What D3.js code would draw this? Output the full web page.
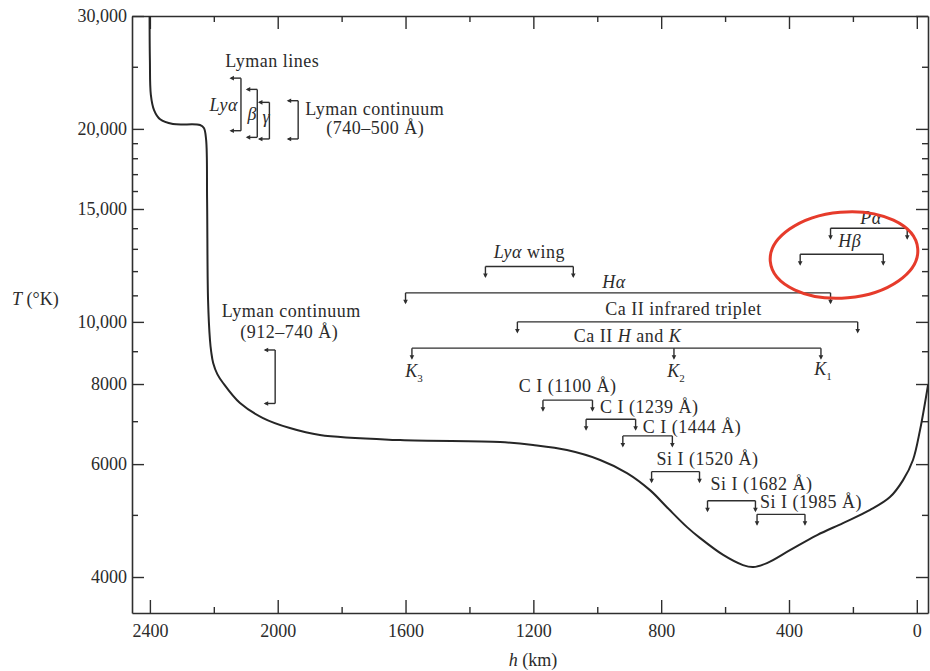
<!DOCTYPE html>
<html>
<head>
<meta charset="utf-8">
<script src="https://cdn.jsdelivr.net/npm/d3@7"></script>
<style>
  body { margin: 0; background: #fff; }
  svg { display: block; }
  text { font-family: "Liberation Serif", "Times New Roman", serif; fill: #2b2b2b; }
</style>
</head>
<body>
<svg id="chart" width="930" height="671"></svg>
<script>
// Temperature profile of the solar atmosphere: T (K) against height h (km)
const heightKm = [2401, 2400, 2397, 2387, 2368, 2328, 2243, 2231, 2224, 2221, 2218, 2212, 2208, 2202,
  2189, 2171, 2118, 2046, 1962, 1868, 1617, 1304, 1201, 1095, 991, 907, 835, 782, 719, 678, 606,
  544, 512, 469, 397, 312, 231, 146, 84, 43, 12, -10, -35];
const tempK = [30000, 25600, 22600, 21400, 20700, 20350, 20280, 20060, 19220, 15490, 10820, 9370, 8970, 8630,
  8290, 8030, 7470, 7080, 6830, 6660, 6540, 6495, 6425, 6310, 6090, 5810, 5465, 5140, 4785, 4600, 4330,
  4175, 4145, 4205, 4405, 4650, 4855, 5090, 5330, 5665, 6090, 6780, 7970];

const xMajorTicks = [2400, 2000, 1600, 1200, 800, 400, 0];
const xMinorTicks = [2200, 1800, 1400, 1000, 600, 200];
const yMajorTicks = [4000, 6000, 8000, 10000, 15000, 20000, 30000];
const yMinorTicks = [5000, 7000, 9000, 11000, 12000, 13000, 14000, 16000, 17000, 18000, 19000, 25000];

// Height ranges (km) where each line / continuum forms, drawn at a temperature level
const heightRanges = [
  { id: "lyaWing", text: "*Lyα* wing", h0: 1350, h1: 1075, T: 12200 },
  { id: "ha", text: "*Hα*", h0: 1600, h1: 270, T: 11100 },
  { id: "caIR", text: "Ca II infrared triplet", h0: 1250, h1: 185, T: 10000 },
  { id: "caHK", text: "Ca II *H* and *K*", h0: 1580, h1: 300, T: 9100, mid: [760] },
  { id: "hb", text: "*Hβ*", h0: 365, h1: 105, T: 12750 },
  { id: "pa", text: "*Pα*", h0: 270, h1: 30, T: 14000 },
  { id: "c1100", text: "C I (1100 Å)", h0: 1170, h1: 1015, T: 7550 },
  { id: "c1239", text: "C I (1239 Å)", h0: 1035, h1: 880, T: 7050 },
  { id: "c1444", text: "C I (1444 Å)", h0: 920, h1: 765, T: 6640 },
  { id: "si1520", text: "Si I (1520 Å)", h0: 830, h1: 680, T: 5840 },
  { id: "si1682", text: "Si I (1682 Å)", h0: 655, h1: 505, T: 5260 },
  { id: "si1985", text: "Si I (1985 Å)", h0: 500, h1: 350, T: 5010 }
];

// Points of the Ca II K profile marked under the H and K bracket
const kPoints = [
  { text: "*K*_3_", h: 1580 },
  { text: "*K*_2_", h: 760 },
  { text: "*K*_1_", h: 300 }
];

// Temperature ranges (K) of the Lyman lines and continua, placed at a height column
const tempRanges = [
  { id: "lya", text: ["*Lyα*"], h: 2115, T0: 24000, T1: 19870 },
  { id: "lyb", text: ["*β*"], h: 2064, T0: 23050, T1: 19400 },
  { id: "lyg", text: ["*γ*"], h: 2026, T0: 22000, T1: 19290 },
  { id: "lyc1", text: ["Lyman continuum", "(740–500 Å)"], h: 1936, T0: 22130, T1: 19290 },
  { id: "lyc2", text: ["Lyman continuum", "(912–740 Å)"], h: 2008, T0: 9040, T1: 7460 }
];

// Label placement relative to each bracket (pixels)
const hLabelLayout = {
  lyaWing: { ref: "mid", anchor: "middle", dx: 0, dy: -9 },
  ha: { ref: "mid", anchor: "middle", dx: -4, dy: -5 },
  caIR: { ref: "mid", anchor: "middle", dx: -4, dy: -7 },
  caHK: { ref: "mid", anchor: "middle", dx: 11, dy: -6 },
  hb: { ref: "mid", anchor: "middle", dx: 8, dy: -7 },
  pa: { ref: "mid", anchor: "middle", dx: 2, dy: -4 },
  c1100: { ref: "mid", anchor: "middle", dx: 0, dy: -8 },
  c1239: { ref: "left", anchor: "start", dx: 14, dy: -6 },
  c1444: { ref: "left", anchor: "start", dx: 20, dy: -3 },
  si1520: { ref: "left", anchor: "start", dx: 5, dy: -7 },
  si1682: { ref: "left", anchor: "start", dx: 3, dy: -11 },
  si1985: { ref: "left", anchor: "start", dx: 3, dy: -6 }
};
const vLabelLayout = {
  lya: [{ anchor: "end", dx: -3, dy: 33 }],
  lyb: [{ anchor: "middle", dx: -5, dy: 31 }],
  lyg: [{ anchor: "middle", dx: -3, dy: 21 }],
  lyc1: [{ anchor: "start", dx: 7, dy: 14 }, { anchor: "middle", dx: 77, dy: 33 }],
  lyc2: [{ anchor: "middle", dx: 16, dy: -33 }, { anchor: "middle", dx: 14, dy: -12 }]
};

const svg = d3.select("#chart");
const ink = "#2e2e2e";

const x = d3.scaleLinear().domain([2456, -35]).range([132, 928]);
const y = d3.scaleLog().domain([3515, 30000]).range([613, 16]);

const fmt = v => v >= 10000 ? d3.format(",")(v) : String(v);

// Axes: ticks point into the plot on all four sides
function styleAxis(g) {
  g.selectAll("path.domain").attr("stroke", ink).attr("stroke-width", 1.6);
  g.selectAll(".tick line").attr("stroke", ink).attr("stroke-width", 1.4);
  g.selectAll(".tick text").attr("font-size", 18).attr("fill", "#2b2b2b")
    .attr("font-family", '"Liberation Serif", serif');
}
svg.append("g").attr("transform", "translate(0,613)")
  .call(d3.axisBottom(x).tickValues(xMajorTicks).tickSize(-13).tickSizeOuter(0).tickPadding(11).tickFormat(d3.format("d")))
  .call(styleAxis);
svg.append("g").attr("transform", "translate(0,613)")
  .call(d3.axisBottom(x).tickValues(xMinorTicks).tickSize(-6).tickSizeOuter(0).tickFormat(""))
  .call(g => g.select("path.domain").remove()).call(styleAxis);
svg.append("g").attr("transform", "translate(0,16)")
  .call(d3.axisTop(x).tickValues(xMajorTicks).tickSize(-13).tickSizeOuter(0).tickFormat(""))
  .call(styleAxis);
svg.append("g").attr("transform", "translate(0,16)")
  .call(d3.axisTop(x).tickValues(xMinorTicks).tickSize(-6).tickSizeOuter(0).tickFormat(""))
  .call(g => g.select("path.domain").remove()).call(styleAxis);
svg.append("g").attr("transform", "translate(132,0)")
  .call(d3.axisLeft(y).tickValues(yMajorTicks).tickSize(-12).tickSizeOuter(0).tickPadding(5).tickFormat(fmt))
  .call(styleAxis);
svg.append("g").attr("transform", "translate(132,0)")
  .call(d3.axisLeft(y).tickValues(yMinorTicks).tickSize(-6).tickSizeOuter(0).tickFormat(""))
  .call(g => g.select("path.domain").remove()).call(styleAxis);
svg.append("g").attr("transform", "translate(928,0)")
  .call(d3.axisRight(y).tickValues(yMajorTicks).tickSize(-12).tickSizeOuter(0).tickFormat(""))
  .call(styleAxis);
svg.append("g").attr("transform", "translate(928,0)")
  .call(d3.axisRight(y).tickValues(yMinorTicks).tickSize(-6).tickSizeOuter(0).tickFormat(""))
  .call(g => g.select("path.domain").remove()).call(styleAxis);

// Text with *italic* and _subscript_ runs
function richText(sel, str, subSize) {
  const parts = str.split(/(\*[^*]+\*|_[^_]+_)/).filter(s => s.length);
  parts.forEach(p => {
    if (p.startsWith("*")) sel.append("tspan").attr("font-style", "italic").text(p.slice(1, -1));
    else if (p.startsWith("_")) sel.append("tspan").attr("dy", 5).attr("font-size", subSize || 12).text(p.slice(1, -1));
    else sel.append("tspan").text(p);
  });
  return sel;
}

// Axis titles
richText(svg.append("text").attr("x", 12).attr("y", 305).attr("font-size", 18), "*T* (°K)");
richText(svg.append("text").attr("x", 533).attr("y", 666).attr("text-anchor", "middle").attr("font-size", 18), "*h* (km)");

// Temperature curve
svg.append("clipPath").attr("id", "plotClip")
  .append("rect").attr("x", 132).attr("y", 16).attr("width", 796).attr("height", 597);
const curveData = heightKm.map((h, i) => [h, tempK[i]]);
svg.append("path").datum(curveData)
  .attr("clip-path", "url(#plotClip)")
  .attr("fill", "none").attr("stroke", "#262626").attr("stroke-width", 2)
  .attr("stroke-linejoin", "round")
  .attr("d", d3.line().x(d => x(d[0])).y(d => y(d[1])).curve(d3.curveCatmullRom.alpha(0.5)));

// Brackets
const ann = svg.append("g").attr("stroke", ink).attr("fill", "none").attr("stroke-width", 1.4);
const arrows = svg.append("g").attr("fill", ink);
const labels = svg.append("g").attr("font-size", 18).attr("letter-spacing", 0.5);
const tick = 10;

function downTick(px, py) {
  ann.append("path").attr("d", `M${px},${py}V${py + tick}`);
  arrows.append("path").attr("d", `M${px - 2.3},${py + tick - 3}L${px + 2.3},${py + tick - 3}L${px},${py + tick + 1.5}Z`);
}
function leftTick(px, py) {
  ann.append("path").attr("d", `M${px},${py}H${px - tick}`);
  arrows.append("path").attr("d", `M${px - tick + 3},${py - 2.3}L${px - tick + 3},${py + 2.3}L${px - tick - 1.5},${py}Z`);
}

heightRanges.forEach(b => {
  const x0 = x(b.h0), x1 = x(b.h1), yy = y(b.T);
  ann.append("path").attr("d", `M${x0},${yy}H${x1}`);
  downTick(x0, yy); downTick(x1, yy);
  (b.mid || []).forEach(m => downTick(x(m), yy));
  const L = hLabelLayout[b.id];
  const ax = (L.ref === "mid" ? (x0 + x1) / 2 : x0) + L.dx;
  richText(labels.append("text").attr("x", ax).attr("y", yy + L.dy).attr("text-anchor", L.anchor), b.text);
});

const hk = heightRanges.find(b => b.id === "caHK");
kPoints.forEach((k, i) => {
  richText(labels.append("text").attr("x", x(k.h) + 2).attr("y", y(hk.T) + (i === 2 ? 27 : 29))
    .attr("text-anchor", "middle").attr("letter-spacing", 0), k.text, 11);
});

tempRanges.forEach(b => {
  const xx = x(b.h), y0 = y(b.T0), y1 = y(b.T1);
  ann.append("path").attr("d", `M${xx},${y0}V${y1}`);
  leftTick(xx, y0); leftTick(xx, y1);
  b.text.forEach((t, i) => {
    const L = vLabelLayout[b.id][i];
    richText(labels.append("text").attr("x", xx + L.dx).attr("y", y0 + L.dy).attr("text-anchor", L.anchor), t);
  });
});

// Group title above the Lyman line brackets
const lyb = tempRanges.find(b => b.id === "lyb");
labels.append("text").attr("x", x(lyb.h) + 15).attr("y", y(lyb.T0) - 22)
  .attr("text-anchor", "middle").text("Lyman lines");

// Highlight ring round the Hβ / Pα brackets
svg.append("ellipse")
  .attr("cx", 844).attr("cy", 255).attr("rx", 74).attr("ry", 43)
  .attr("transform", "rotate(-5 844 255)")
  .attr("fill", "none").attr("stroke", "#e63b2b").attr("stroke-width", 3);
</script>
</body>
</html>
